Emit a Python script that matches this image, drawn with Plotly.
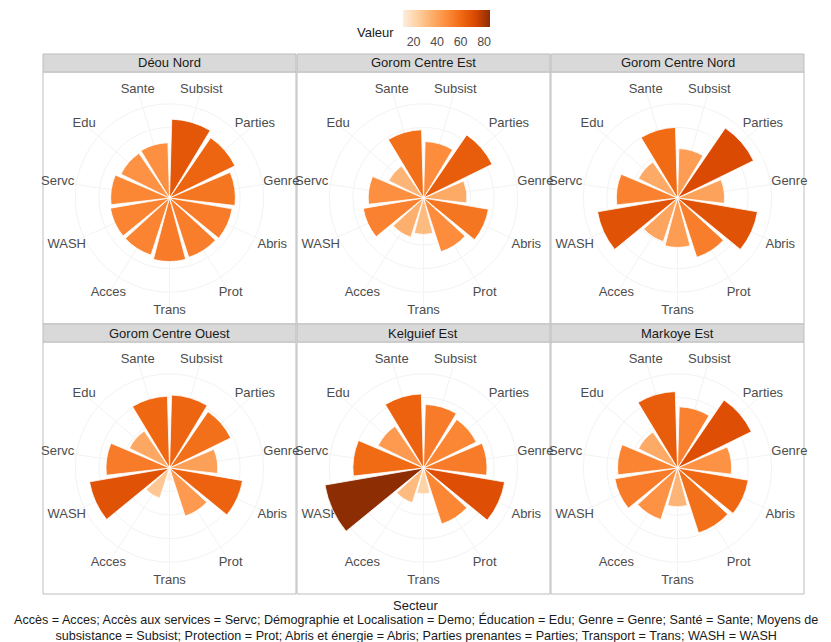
import plotly.graph_objects as go

# Sectors, clockwise from the top of each rose
secteurs = ["Subsist", "Parties", "Genre", "Abris", "Prot", "Trans",
            "Acces", "WASH", "Servc", "Edu", "Sante"]

communes = ["Déou Nord", "Gorom Centre Est", "Gorom Centre Nord",
            "Gorom Centre Ouest", "Kelguief Est", "Markoye Est"]

# Score per sector for each commune
deou_nord = [67, 62, 56, 54, 53, 54, 51, 51, 50, 46, 47]
gorom_centre_est = [48, 65, 37, 56, 48, 31, 35, 52, 47, 33, 58]
gorom_centre_nord = [42, 72, 40, 69, 53, 42, 39, 69, 52, 37, 60]
gorom_centre_ouest = [62, 58, 41, 63, 43, 11, 27, 69, 54, 38, 61]
kelguief_est = [54, 50, 54, 70, 50, 22, 31, 85, 60, 43, 63]
markoye_est = [52, 70, 46, 61, 58, 33, 46, 54, 51, 37, 65]

valeurs = [deou_nord, gorom_centre_est, gorom_centre_nord,
           gorom_centre_ouest, kelguief_est, markoye_est]

legend_ticks = [20, 40, 60, 80]

caption = ("Accès = Acces; Accès aux services = Servc; Démographie et Localisation = Demo; "
           "Éducation = Edu; Genre = Genre; Santé = Sante; Moyens de<br>"
           "subsistance = Subsist; Protection = Prot; Abris et énergie = Abris; "
           "Parties prenantes = Parties; Transport = Trans; WASH = WASH")

# Brewer "Oranges" ramp
oranges = ["#FEEDDE", "#FDD0A2", "#FDAE6B", "#FD8D3C", "#F16913", "#D94801", "#8C2D04"]
colorscale = [[i / (len(oranges) - 1), c] for i, c in enumerate(oranges)]

FONT = "Liberation Sans, Arial, Helvetica, sans-serif"
W, H = 831, 642

n = len(secteurs)
step = 360.0 / n
thetas = [(i + 0.5) * step for i in range(n)]

all_vals = [v for row in valeurs for v in row]
vmin, vmax = min(all_vals), max(all_vals)

# Facet geometry (pixels)
col_left = [43, 297, 551]
panel_w = 253
row_top = [72, 342]
panel_h = 252
strip_h = 18
R = 113            # radius of the label ring (= outer edge of the polar area)
bar_px = 100       # pixel length of the largest bar
rmax = vmax * R / bar_px

fig = go.Figure()
shapes = []
annotations = []
n_fac = len(communes)


def axis_name(i):
    return "polar" if i == 0 else f"polar{i + 1}"


for k, (name, vals) in enumerate(zip(communes, valeurs)):
    r, c = divmod(k, 3)
    x0 = col_left[c]
    x1 = x0 + panel_w
    y0 = row_top[r]
    y1 = y0 + panel_h
    cx = (x0 + x1) / 2
    cy = (y0 + y1) / 2
    domain = dict(x=[(cx - R) / W, (cx + R) / W],
                  y=[1 - (cy + R) / H, 1 - (cy - R) / H])

    # back layer: grid and sector names on the outer ring
    back = axis_name(k)
    # front layer: the bars, drawn over the names
    front = axis_name(k + n_fac)

    fig.add_trace(go.Scatterpolar(
        r=[rmax] * n, theta=thetas, text=secteurs, mode="text",
        textposition="middle center", cliponaxis=False,
        textfont=dict(size=13, color="#4D4D4D", family=FONT),
        subplot=back, showlegend=False, hoverinfo="skip",
    ))

    fig.add_trace(go.Barpolar(
        r=vals, theta=thetas, width=[step * 0.9] * n,
        marker=dict(color=vals, coloraxis="coloraxis",
                    line=dict(color="white", width=0.8)),
        subplot=front, name=name, showlegend=False,
        customdata=secteurs,
        hovertemplate="%{customdata}: %{r}<extra>" + name + "</extra>",
    ))

    fig.update_layout(**{back: dict(
        domain=domain, bgcolor="rgba(0,0,0,0)",
        angularaxis=dict(rotation=90, direction="clockwise",
                         tickmode="array", tickvals=thetas,
                         showticklabels=False, showline=False, ticks="",
                         gridcolor="#F3F3F3", layer="below traces"),
        radialaxis=dict(range=[0, rmax], showticklabels=False, ticks="",
                        showline=False, gridcolor="#F3F3F3",
                        tickvals=legend_ticks, layer="below traces"),
    )})
    fig.update_layout(**{front: dict(
        domain=domain, bgcolor="rgba(0,0,0,0)",
        angularaxis=dict(rotation=90, direction="clockwise",
                         showgrid=False, showticklabels=False,
                         showline=False, ticks=""),
        radialaxis=dict(range=[0, rmax], showgrid=False, showticklabels=False,
                        showline=False, ticks=""),
    )})

    # panel frame
    shapes.append(dict(type="rect", xref="paper", yref="paper", layer="below",
                       x0=x0 / W, x1=x1 / W, y0=1 - y1 / H, y1=1 - y0 / H,
                       line=dict(color="#BDBDBD", width=1), fillcolor="white"))
    # strip
    shapes.append(dict(type="rect", xref="paper", yref="paper", layer="above",
                       x0=x0 / W, x1=x1 / W, y0=1 - y0 / H, y1=1 - (y0 - strip_h) / H,
                       line=dict(color="#BDBDBD", width=1), fillcolor="#D9D9D9"))
    annotations.append(dict(text=name, xref="paper", yref="paper",
                            x=cx / W, y=1 - (y0 - strip_h / 2) / H,
                            xanchor="center", yanchor="middle", showarrow=False,
                            font=dict(size=13, color="#1A1A1A", family=FONT)))

annotations.append(dict(text="Valeur", xref="paper", yref="paper",
                        x=375 / W, y=1 - 32 / H, xanchor="center", yanchor="middle",
                        showarrow=False, font=dict(size=13, color="#1A1A1A", family=FONT)))
annotations.append(dict(text="Secteur", xref="paper", yref="paper",
                        x=415 / W, y=1 - 605 / H, xanchor="center", yanchor="middle",
                        showarrow=False, font=dict(size=13, color="#1A1A1A", family=FONT)))
annotations.append(dict(text=caption, xref="paper", yref="paper",
                        x=416 / W, y=1 - 627.5 / H, xanchor="center", yanchor="middle",
                        showarrow=False, align="center",
                        font=dict(size=12.6, color="#1A1A1A", family=FONT)))

fig.update_layout(
    width=W, height=H,
    margin=dict(l=0, r=0, t=0, b=0),
    paper_bgcolor="white",
    font=dict(family=FONT),
    shapes=shapes,
    annotations=annotations,
    coloraxis=dict(
        colorscale=colorscale, cmin=vmin, cmax=vmax,
        colorbar=dict(orientation="h", x=446.5 / W, xanchor="center",
                      y=1 - 10 / H, yanchor="top",
                      len=87, lenmode="pixels", thickness=17,
                      xpad=0, ypad=0, outlinewidth=0,
                      ticks="outside", ticklen=4, tickcolor="rgba(0,0,0,0)",
                      tickvals=legend_ticks,
                      tickfont=dict(size=12.5, color="#4D4D4D", family=FONT)),
    ),
)

fig.write_html("out.html")
